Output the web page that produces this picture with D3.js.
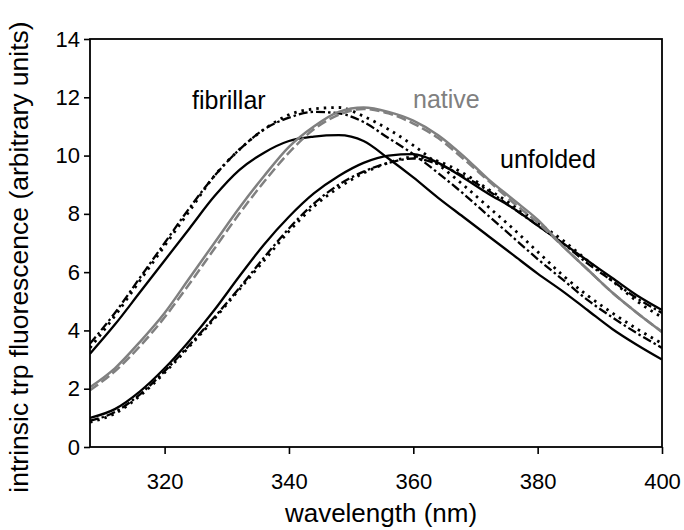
<!DOCTYPE html>
<html>
<head>
<meta charset="utf-8">
<script src="https://cdn.jsdelivr.net/npm/d3@7"></script>
<style>
  html, body { margin: 0; padding: 0; background: #fff; }
  svg { display: block; }
  text { font-family: "Liberation Sans", Arial, sans-serif; }
</style>
</head>
<body>
<svg id="chart" width="684" height="530"></svg>
<script>
// ---------------- data ----------------
const wavelengths = [308,312,316,320,324,328,332,336,340,344,348,352,356,360,364,368,372,376,380,384,388,392,396,400];

// fibrillar
const fibrillarSolid   = [3.2,4.2,5.3,6.4,7.5,8.6,9.5,10.1,10.5,10.65,10.7,10.5,9.9,9.25,8.55,7.9,7.25,6.6,5.95,5.35,4.7,4.05,3.5,3.0];
const fibrillarDashDot = [3.55,4.6,5.8,7.0,8.2,9.3,10.2,10.9,11.3,11.5,11.45,11.15,10.6,10.05,9.4,8.7,7.95,7.2,6.45,5.75,5.05,4.45,3.9,3.4];
const fibrillarDotted  = [3.4,4.5,5.7,6.9,8.1,9.3,10.2,10.9,11.4,11.6,11.65,11.35,10.9,10.35,9.7,9.0,8.25,7.5,6.7,5.9,5.2,4.6,4.05,3.55];

// native
const nativeSolid  = [2.05,2.7,3.6,4.6,5.8,7.0,8.2,9.3,10.3,11.0,11.5,11.65,11.5,11.2,10.7,10.0,9.2,8.5,7.8,6.9,6.1,5.3,4.6,3.95];
const nativeDashed = [1.95,2.6,3.45,4.45,5.6,6.8,8.0,9.1,10.1,10.9,11.4,11.6,11.45,11.1,10.6,9.9,9.15,8.4,7.7,6.9,6.1,5.3,4.6,3.95];

// unfolded
const unfoldedSolid   = [1.0,1.3,1.9,2.7,3.65,4.7,5.85,6.95,7.9,8.7,9.3,9.75,10.0,10.05,9.75,9.25,8.7,8.2,7.6,7.0,6.4,5.8,5.2,4.7];
const unfoldedDashDot = [0.9,1.2,1.8,2.6,3.5,4.45,5.45,6.5,7.5,8.35,9.0,9.45,9.75,9.9,9.7,9.3,8.8,8.2,7.6,7.0,6.3,5.7,5.1,4.6];
const unfoldedDotted  = [0.85,1.15,1.75,2.55,3.45,4.4,5.4,6.4,7.4,8.25,8.9,9.4,9.75,9.95,9.8,9.4,8.85,8.3,7.7,7.1,6.4,5.7,5.0,4.45];

const xTicks = [320,340,360,380,400];
const yTicks = [0,2,4,6,8,10,12,14];
const groupLabels = ["fibrillar","native","unfolded"];
const xTitle = "wavelength (nm)";
const yTitle = "intrinsic trp fluorescence (arbitrary units)";

// ---------------- layout ----------------
const svg = d3.select("#chart");
const m = {left: 90, right: 684 - 662, top: 39, bottom: 530 - 447};
const W = 684 - m.left - m.right;
const H = 530 - m.top - m.bottom;

const x = d3.scaleLinear().domain([308, 400]).range([m.left, m.left + W]);
const y = d3.scaleLinear().domain([0, 14]).range([m.top + H, m.top]);

const BLACK = "#000";
const GRAY = "#808080";

const series = [
  {v: unfoldedSolid,   c: BLACK, w: 2.3, dash: null},
  {v: unfoldedDashDot, c: BLACK, w: 2.3, dash: "9,3,2.5,3"},
  {v: unfoldedDotted,  c: BLACK, w: 2.8, dash: "2.5,5"},
  {v: fibrillarSolid,  c: BLACK, w: 2.3, dash: null},
  {v: fibrillarDashDot,c: BLACK, w: 2.3, dash: "9,3,2.5,3"},
  {v: fibrillarDotted, c: BLACK, w: 2.8, dash: "2.5,5"},
  {v: nativeDashed,    c: GRAY,  w: 2.5, dash: "10,4"},
  {v: nativeSolid,     c: GRAY,  w: 2.5, dash: null}
];

const line = d3.line()
  .x(d => x(d[0]))
  .y(d => y(d[1]))
  .curve(d3.curveMonotoneX);

const clipId = "plotclip";
svg.append("clipPath").attr("id", clipId)
  .append("rect").attr("x", m.left).attr("y", m.top).attr("width", W).attr("height", H);

const plot = svg.append("g").attr("clip-path", `url(#${clipId})`);
series.forEach(s => {
  plot.append("path")
    .datum(wavelengths.map((w, i) => [w, s.v[i]]))
    .attr("d", line)
    .attr("fill", "none")
    .attr("stroke", s.c)
    .attr("stroke-width", s.w)
    .attr("stroke-dasharray", s.dash)
    .attr("stroke-linejoin", "round");
});

// ---------------- axes ----------------
const xAxis = svg.append("g")
  .attr("transform", `translate(0,${m.top + H})`)
  .call(d3.axisBottom(x).tickValues(xTicks).tickSize(7).tickPadding(19).tickSizeOuter(0));
const yAxis = svg.append("g")
  .attr("transform", `translate(${m.left},0)`)
  .call(d3.axisLeft(y).tickValues(yTicks).tickSize(6).tickPadding(4).tickSizeOuter(0));

[xAxis, yAxis].forEach(g => {
  g.select(".domain").remove();
  g.selectAll(".tick line").attr("stroke", "#000").attr("stroke-width", 1.6);
  g.selectAll(".tick text")
    .attr("fill", "#000")
    .style("font-family", "'Liberation Sans', Arial, sans-serif")
    .style("font-size", "22px");
});

// plot frame
svg.append("rect")
  .attr("x", m.left).attr("y", m.top)
  .attr("width", W).attr("height", H)
  .attr("fill", "none").attr("stroke", "#000").attr("stroke-width", 1.8);

// axis titles
svg.append("text")
  .attr("x", 381)
  .attr("y", 522)
  .attr("text-anchor", "middle")
  .style("font-size", "26px")
  .text(xTitle);

svg.append("text")
  .attr("transform", `translate(28,${257}) rotate(-90)`)
  .attr("text-anchor", "middle")
  .style("font-size", "26.5px")
  .text(yTitle);

// group labels
svg.append("text").attr("x", 192).attr("y", 109).style("font-size", "25px").attr("fill", BLACK).text(groupLabels[0]);
svg.append("text").attr("x", 413).attr("y", 108).style("font-size", "25px").attr("fill", GRAY).text(groupLabels[1]);
svg.append("text").attr("x", 500).attr("y", 168).style("font-size", "25px").attr("fill", BLACK).text(groupLabels[2]);
</script>
</body>
</html>
